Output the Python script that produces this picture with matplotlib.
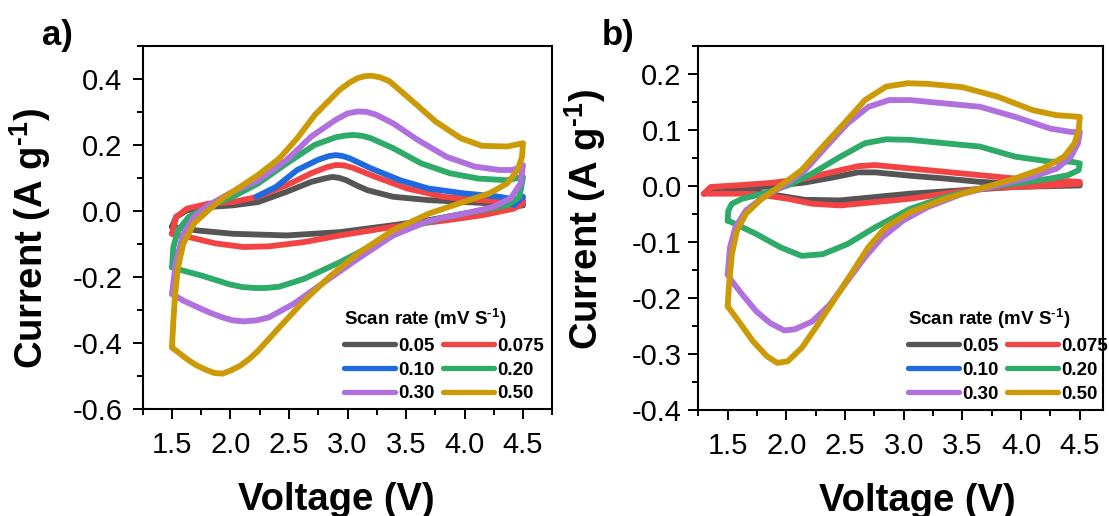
import matplotlib
matplotlib.use("Agg")
import matplotlib.pyplot as plt
from matplotlib.ticker import MultipleLocator

plt.rcParams['font.family'] = ['Liberation Sans', 'DejaVu Sans']
plt.rcParams['mathtext.fontset'] = 'custom'
plt.rcParams['mathtext.rm'] = 'Liberation Sans'
plt.rcParams['mathtext.bf'] = 'Liberation Sans:bold'
plt.rcParams['mathtext.default'] = 'regular'

# ---------------- data ----------------
scan_rates = ['0.05', '0.075', '0.10', '0.20', '0.30', '0.50']
colors = ['#555555', '#F24444', '#1E6BE0', '#2EAA69', '#B071DE', '#CC9A06']

# Panel a: each loop = anodic branch (1.5 -> 4.5 V) then cathodic branch (4.5 -> 1.5 V)
a_v_005 = [1.50, 1.536, 1.628, 1.81, 2.02, 2.236, 2.48, 2.69, 2.80, 2.87, 2.93, 2.99, 3.08, 3.17, 3.39, 3.69, 4.0, 4.30, 4.50,
           4.50, 4.30, 4.0, 3.69, 3.39, 2.935, 2.48, 2.02, 1.719, 1.50]
a_i_005 = [-0.048, -0.018, 0.002, 0.012, 0.017, 0.027, 0.058, 0.088, 0.098, 0.103, 0.100, 0.093, 0.077, 0.063, 0.043, 0.033, 0.027, 0.022, 0.027,
           0.017, 0.007, -0.008, -0.028, -0.043, -0.064, -0.074, -0.069, -0.059, -0.048]

a_v_0075 = [1.50, 1.536, 1.628, 1.81, 2.02, 2.236, 2.48, 2.69, 2.82, 2.90, 2.97, 3.05, 3.24, 3.51, 3.82, 4.12, 4.42, 4.50,
            4.50, 4.42, 4.15, 3.85, 3.39, 2.935, 2.63, 2.33, 2.11, 1.87, 1.658, 1.50]
a_i_0075 = [-0.069, -0.018, 0.007, 0.022, 0.027, 0.043, 0.078, 0.114, 0.132, 0.139, 0.138, 0.130, 0.103, 0.068, 0.043, 0.033, 0.027, 0.033,
            0.022, 0.007, -0.013, -0.028, -0.048, -0.074, -0.094, -0.107, -0.109, -0.098, -0.080, -0.069]

a_v_010 = [2.22, 2.39, 2.57, 2.75, 2.84, 2.90, 2.96, 3.02, 3.20, 3.45, 3.69, 4.0, 4.30, 4.45, 4.50, 4.42]
a_i_010 = [0.043, 0.073, 0.124, 0.155, 0.166, 0.169, 0.166, 0.159, 0.129, 0.093, 0.068, 0.053, 0.043, 0.033, 0.043, 0.017]

a_v_020 = [1.50, 1.512, 1.552, 1.643, 1.80, 2.02, 2.236, 2.48, 2.72, 2.90, 2.98, 3.055, 3.13, 3.20, 3.39, 3.63, 3.875, 4.12, 4.36, 4.50,
           4.47, 4.363, 4.15, 3.846, 3.543, 3.239, 2.935, 2.631, 2.418, 2.30, 2.205, 2.10, 1.992, 1.749, 1.536, 1.50]
a_i_020 = [-0.170, -0.109, -0.059, -0.018, 0.012, 0.043, 0.083, 0.144, 0.200, 0.223, 0.228, 0.230, 0.227, 0.220, 0.190, 0.144, 0.114, 0.098, 0.093, 0.103,
           0.043, 0.017, 0.002, -0.018, -0.048, -0.099, -0.155, -0.205, -0.229, -0.233, -0.233, -0.230, -0.222, -0.195, -0.175, -0.170]

a_v_030 = [1.50, 1.536, 1.597, 1.688, 1.81, 1.992, 2.236, 2.48, 2.69, 2.90, 3.00, 3.087, 3.16, 3.24, 3.39, 3.60, 3.846, 4.09, 4.30, 4.42, 4.50,
           4.479, 4.394, 4.242, 3.998, 3.695, 3.39, 3.087, 2.783, 2.54, 2.327, 2.22, 2.114, 2.02, 1.932, 1.84, 1.749, 1.597, 1.50]
a_i_030 = [-0.251, -0.150, -0.069, -0.018, 0.017, 0.053, 0.093, 0.154, 0.225, 0.276, 0.295, 0.301, 0.300, 0.292, 0.265, 0.215, 0.164, 0.134, 0.124, 0.124, 0.139,
           0.083, 0.038, 0.012, -0.008, -0.030, -0.074, -0.145, -0.220, -0.281, -0.322, -0.331, -0.334, -0.331, -0.322, -0.310, -0.296, -0.271, -0.251]

a_v_050 = [1.50, 1.512, 1.527, 1.552, 1.597, 1.688, 1.81, 1.932, 2.084, 2.236, 2.418, 2.57, 2.722, 2.935, 3.02, 3.087, 3.15, 3.208, 3.28, 3.36, 3.543,
           3.755, 3.968, 4.15, 4.363, 4.50,
           4.491, 4.455, 4.363, 4.211, 3.998, 3.695, 3.39, 3.087, 2.843, 2.631, 2.418, 2.236, 2.16, 2.084, 2.00, 1.932, 1.86, 1.78, 1.70, 1.628, 1.50]
a_i_050 = [-0.413, -0.332, -0.251, -0.170, -0.099, -0.038, 0.002, 0.038, 0.073, 0.109, 0.159, 0.220, 0.291, 0.367, 0.389, 0.402, 0.408, 0.409, 0.404, 0.392, 0.336,
           0.270, 0.220, 0.197, 0.195, 0.205,
           0.164, 0.124, 0.083, 0.053, 0.028, -0.008, -0.058, -0.129, -0.200, -0.271, -0.352, -0.423, -0.448, -0.468, -0.483, -0.492, -0.490, -0.479, -0.465, -0.448, -0.413]

# Panel b
b_v_005 = [1.357, 1.566, 1.863, 2.16, 2.40, 2.61, 2.757, 3.055, 3.35, 3.65, 3.95, 4.50,
           4.50, 3.95, 3.50, 3.055, 2.757, 2.46, 2.16, 1.923, 1.714, 1.357]
b_i_005 = [-0.008, -0.005, -0.001, 0.006, 0.015, 0.024, 0.024, 0.018, 0.013, 0.007, 0.004, 0.002,
           0.0006, -0.002, -0.008, -0.014, -0.020, -0.026, -0.025, -0.017, -0.011, -0.008]

b_v_0075 = [1.297, 1.357, 1.566, 1.863, 2.16, 2.40, 2.61, 2.757, 3.055, 3.35, 3.65, 3.95, 4.25, 4.50,
            4.50, 4.25, 3.95, 3.65, 3.35, 3.055, 2.757, 2.46, 2.22, 2.01, 1.714, 1.417, 1.297]
b_i_0075 = [-0.014, -0.002, 0.0006, 0.005, 0.013, 0.025, 0.035, 0.037, 0.031, 0.025, 0.019, 0.013, 0.010, 0.007,
            0.004, 0.0006, -0.002, -0.005, -0.014, -0.023, -0.029, -0.035, -0.032, -0.023, -0.014, -0.014, -0.014]

b_v_010 = []
b_i_010 = []

b_v_020 = [1.50, 1.506, 1.536, 1.625, 1.804, 2.01, 2.22, 2.46, 2.67, 2.85, 3.055, 3.35, 3.65, 3.95, 4.25, 4.43, 4.50,
           4.49, 4.40, 4.25, 3.95, 3.65, 3.35, 3.055, 2.757, 2.52, 2.31, 2.13, 1.953, 1.744, 1.566, 1.50]
b_i_020 = [-0.062, -0.044, -0.032, -0.023, -0.014, 0.0006, 0.022, 0.052, 0.076, 0.083, 0.082, 0.076, 0.070, 0.052, 0.043, 0.043, 0.040,
           0.028, 0.019, 0.013, 0.004, -0.005, -0.020, -0.041, -0.074, -0.104, -0.122, -0.125, -0.110, -0.086, -0.068, -0.062]

b_v_030 = [1.50, 1.52, 1.566, 1.655, 1.804, 1.983, 2.16, 2.34, 2.52, 2.70, 2.876, 3.055, 3.35, 3.65, 3.95, 4.25, 4.43, 4.50,
           4.485, 4.425, 4.306, 4.098, 3.80, 3.502, 3.204, 2.995, 2.817, 2.668, 2.519, 2.37, 2.221, 2.072, 1.983, 1.863,
           1.744, 1.625, 1.536, 1.50]
b_i_030 = [-0.158, -0.110, -0.074, -0.044, -0.020, 0.0006, 0.028, 0.070, 0.111, 0.141, 0.153, 0.153, 0.147, 0.141, 0.123, 0.102, 0.096, 0.096,
           0.076, 0.052, 0.031, 0.016, 0.001, -0.014, -0.038, -0.062, -0.092, -0.128, -0.170, -0.212, -0.242, -0.256, -0.258, -0.245,
           -0.224, -0.194, -0.170, -0.158]

b_v_050 = [1.50, 1.512, 1.536, 1.58, 1.655, 1.774, 1.953, 2.13, 2.31, 2.49, 2.67, 2.85, 3.03, 3.20, 3.50, 3.80, 4.10, 4.30, 4.50,
           4.491, 4.455, 4.366, 4.187, 3.949, 3.651, 3.353, 3.055, 2.846, 2.697, 2.549, 2.40, 2.251, 2.132, 2.012, 1.923,
           1.834, 1.714, 1.595, 1.50]
b_i_050 = [-0.215, -0.176, -0.122, -0.080, -0.050, -0.026, 0.0006, 0.028, 0.070, 0.111, 0.153, 0.177, 0.183, 0.182, 0.176, 0.159, 0.135, 0.126, 0.123,
           0.100, 0.076, 0.052, 0.031, 0.013, -0.005, -0.023, -0.047, -0.074, -0.110, -0.158, -0.206, -0.253, -0.289, -0.313, -0.316,
           -0.304, -0.277, -0.242, -0.215]

panel_a = [(a_v_005, a_i_005), (a_v_0075, a_i_0075), (a_v_010, a_i_010),
           (a_v_020, a_i_020), (a_v_030, a_i_030), (a_v_050, a_i_050)]
panel_b = [(b_v_005, b_i_005), (b_v_0075, b_i_0075), (b_v_010, b_i_010),
           (b_v_020, b_i_020), (b_v_030, b_i_030), (b_v_050, b_i_050)]

# ---------------- figure ----------------
W, H = 1109, 516
fig = plt.figure(figsize=(W / 100, H / 100), dpi=100)

def px_axes(l, t, r, b):
    return fig.add_axes([l / W, 1 - b / H, (r - l) / W, (b - t) / H])

axa = px_axes(142.7, 45.7, 552.3, 409.3)
axb = px_axes(698.3, 45.7, 1103.3, 410.0)

def style(ax, ylim, ymaj, ymin, ypad, xlim):
    ax.set_xlim(*xlim)
    ax.set_ylim(*ylim)
    ax.xaxis.set_major_locator(MultipleLocator(0.5))
    ax.xaxis.set_minor_locator(MultipleLocator(0.25))
    ax.yaxis.set_major_locator(MultipleLocator(ymaj))
    ax.yaxis.set_minor_locator(MultipleLocator(ymin))
    ax.set_xticks([1.5, 2.0, 2.5, 3.0, 3.5, 4.0, 4.5])
    ax.tick_params(which='both', direction='out', width=1.4, top=False, right=False)
    ax.tick_params(which='major', length=7.5, labelsize=21)
    ax.tick_params(which='minor', length=4)
    ax.tick_params(axis='x', which='major', pad=8)
    ax.tick_params(axis='y', which='major', pad=ypad)
    for s in ax.spines.values():
        s.set_linewidth(1.5)

style(axa, (-0.6, 0.5), 0.2, 0.1, 7, (1.25, 4.75))
style(axb, (-0.4, 0.25), 0.1, 0.05, 4.5, (1.25, 4.70))
axa.set_yticks([-0.6, -0.4, -0.2, 0.0, 0.2, 0.4])
axa.set_yticklabels(['-0.6', '-0.4', '-0.2', '0.0', '0.2', '0.4'])
axb.set_yticks([-0.4, -0.3, -0.2, -0.1, 0.0, 0.1, 0.2])
axb.set_yticklabels(['-0.4', '-0.3', '-0.2', '-0.1', '0.0', '0.1', '0.2'])
for ax in (axa, axb):
    ax.set_xticklabels(['1.5', '2.0', '2.5', '3.0', '3.5', '4.0', '4.5'])

def draw(ax, data):
    lines = []
    for k, ((v, i), c, lab) in enumerate(zip(data, colors, scan_rates)):
        ln, = ax.plot(v, i, color=c, lw=4.2, label=lab, solid_capstyle='round',
                      solid_joinstyle='round', zorder=2 + k)
        lines.append(ln)
    return lines

la = draw(axa, panel_a)
lb = draw(axb, panel_b)

order = [0, 2, 4, 1, 3, 5]
title = 'Scan rate (mV S$^{\u20101}$)'

def legend(ax, lines, anchor):
    leg = ax.legend([lines[k] for k in order], [scan_rates[k] for k in order],
                    ncol=2, loc='upper left', bbox_to_anchor=anchor, frameon=False,
                    borderpad=0, borderaxespad=0, handlelength=2.72, handletextpad=0.15,
                    columnspacing=0.48, labelspacing=0.36,
                    prop={'weight': 'bold', 'size': 13.5}, title=title,
                    title_fontproperties={'weight': 'bold', 'size': 13.5},
                    alignment='left')
    for h in leg.legend_handles:
        h.set_linewidth(3.8)
        h.set_solid_capstyle('round')
    leg.set_zorder(20)
    return leg

legend(axa, la, (0.492, 0.282))
legend(axb, lb, (0.5185, 0.283))

# axis labels
for ax, xl, yl in ((axa, 0.472, (-0.219, 0.471)), (axb, 0.5415, (-0.223, 0.524))):
    ax.set_xlabel('Voltage (V)', fontsize=27.5, fontweight='bold', va='baseline')
    ax.xaxis.set_label_coords(xl, -0.276)
    ax.set_ylabel('Current (A g$^{\u20101}$)', fontsize=27.5, fontweight='bold')
    ax.yaxis.set_label_coords(*yl)

fig.text(42 / W, 1 - 45 / H, 'a)', fontsize=25, fontweight='bold', ha='left', va='baseline')
fig.text(602 / W, 1 - 45 / H, 'b)', fontsize=25, fontweight='bold', ha='left', va='baseline')

fig.savefig('out.png', dpi=100)
